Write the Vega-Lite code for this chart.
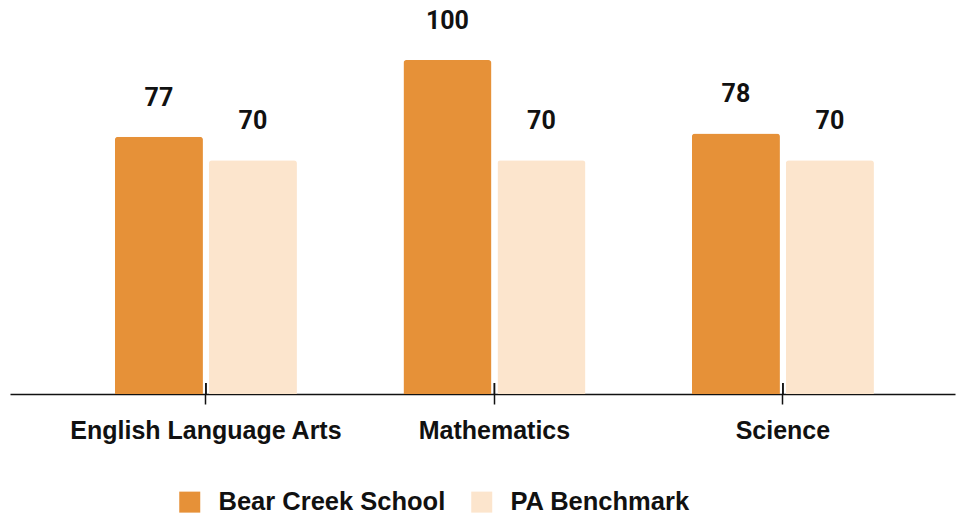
{
  "$schema": "https://vega.github.io/schema/vega-lite/v6.json",
  "width": 945,
  "height": 384,
  "autosize": {"type": "none"},
  "padding": {"top": 10, "left": 10, "right": 10, "bottom": 120},
  "background": "white",
  "config": {"view": {"stroke": null}},
  "data": {
    "values": [
      {"subject": "English Language Arts", "series": "Bear Creek School", "value": 77},
      {"subject": "English Language Arts", "series": "PA Benchmark", "value": 70},
      {"subject": "Mathematics", "series": "Bear Creek School", "value": 100},
      {"subject": "Mathematics", "series": "PA Benchmark", "value": 70},
      {"subject": "Science", "series": "Bear Creek School", "value": 78},
      {"subject": "Science", "series": "PA Benchmark", "value": 70}
    ]
  },
  "encoding": {
    "x": {
      "field": "subject",
      "type": "nominal",
      "sort": ["English Language Arts", "Mathematics", "Science"],
      "scale": {"paddingInner": 0, "paddingOuter": 0.1378, "align": 0.65},
      "axis": {
        "title": null,
        "labelAngle": 0,
        "labelLimit": 0,
        "domainColor": "#111111",
        "domainWidth": 1.5,
        "tickColor": "#111111",
        "tickWidth": 1.5,
        "tickSize": 10,
        "labelFont": "Liberation Sans",
        "labelFontWeight": "bold",
        "labelFontSize": 25,
        "labelColor": "#111111",
        "labelPadding": 14
      }
    }
  },
  "layer": [
    {
      "mark": {"type": "bar", "cornerRadiusTopLeft": 3, "cornerRadiusTopRight": 3},
      "encoding": {
        "xOffset": {
          "field": "series",
          "type": "nominal",
          "sort": ["Bear Creek School", "PA Benchmark"],
          "scale": {"paddingInner": 0.0638, "paddingOuter": 0.5665}
        },
        "y": {
          "field": "value",
          "type": "quantitative",
          "scale": {"domain": [0, 114.97], "nice": false},
          "axis": null
        },
        "color": {
          "field": "series",
          "type": "nominal",
          "sort": ["Bear Creek School", "PA Benchmark"],
          "scale": {"domain": ["Bear Creek School", "PA Benchmark"], "range": ["#E69138", "#FCE5CD"]},
          "legend": {
            "title": null,
            "orient": "none",
            "direction": "horizontal",
            "legendX": 167,
            "legendY": 479,
            "symbolType": "square",
            "symbolSize": 441,
            "symbolStrokeWidth": 0,
            "symbolOpacity": 1,
            "labelFont": "Liberation Sans",
            "labelFontSize": 25.5,
            "labelFontWeight": "bold",
            "labelColor": "#111111",
            "labelOffset": 16,
            "labelLimit": 0,
            "columnPadding": 23
          }
        }
      }
    },
    {
      "mark": {"type": "text", "dy": -31, "baseline": "alphabetic", "font": "Roboto", "fontWeight": "bold", "fontSize": 25, "color": "#111111"},
      "encoding": {
        "xOffset": {
          "field": "series",
          "type": "nominal",
          "sort": ["Bear Creek School", "PA Benchmark"]
        },
        "y": {"field": "value", "type": "quantitative"},
        "text": {"field": "value", "type": "quantitative"}
      }
    },
    {
      "mark": {"type": "rule", "color": "#111111", "strokeWidth": 1.5},
      "encoding": {
        "y": {"datum": 0},
        "y2": {"datum": 3.3}
      }
    }
  ]
}
